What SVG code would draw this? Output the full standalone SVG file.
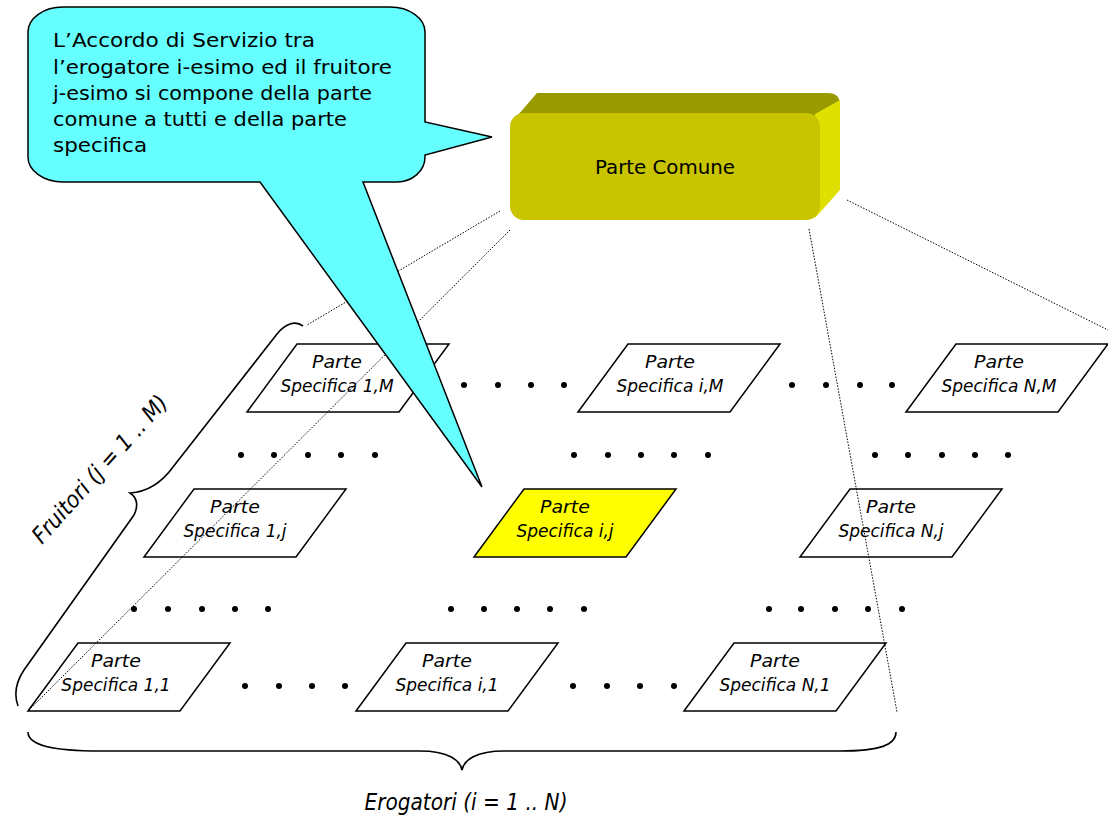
<svg xmlns="http://www.w3.org/2000/svg" width="1108" height="816" viewBox="0 0 1108 816">
<style>
.ps{fill:#ffffff;stroke:#000;stroke-width:1.5;stroke-linejoin:miter}
.ps.hl{fill:#ffff00}
.pt{font-family:"DejaVu Sans","Liberation Sans",sans-serif;font-style:italic;font-size:17px;fill:#000;text-anchor:middle}
.dot{fill:#000}
.brace{fill:none;stroke:#000;stroke-width:1.6}
.conn line{stroke:#000;stroke-width:1;stroke-dasharray:1.5 1.5;fill:none}
.ct{font-family:"DejaVu Sans","Liberation Sans",sans-serif;font-size:19px;fill:#000}
.lbl{font-family:"DejaVu Sans","Liberation Sans",sans-serif;font-style:italic;font-size:23px;fill:#000}
</style>
<defs>
<polygon id="para" points="0,68 50,0 202,0 152,68"/>
</defs>
<rect width="1108" height="816" fill="#ffffff"/>

<!-- Parte Specifica boxes -->
<g id="ps-1-M"><use href="#para" class="ps" x="247" y="344"/><text class="pt" x="337" y="368" textLength="50" lengthAdjust="spacingAndGlyphs">Parte</text><text class="pt" x="337" y="392">Specifica 1,M</text></g>
<g id="ps-i-M"><use href="#para" class="ps" x="578" y="344"/><text class="pt" x="670" y="368" textLength="50" lengthAdjust="spacingAndGlyphs">Parte</text><text class="pt" x="670" y="392">Specifica i,M</text></g>
<g id="ps-N-M"><use href="#para" class="ps" x="906" y="344"/><text class="pt" x="999" y="368" textLength="50" lengthAdjust="spacingAndGlyphs">Parte</text><text class="pt" x="999" y="392">Specifica N,M</text></g>
<g id="ps-1-j"><use href="#para" class="ps" x="144" y="489"/><text class="pt" x="235" y="513" textLength="50" lengthAdjust="spacingAndGlyphs">Parte</text><text class="pt" x="235" y="537">Specifica 1,j</text></g>
<g id="ps-i-j"><use href="#para" class="ps hl" x="474" y="489"/><text class="pt" x="565" y="513" textLength="50" lengthAdjust="spacingAndGlyphs">Parte</text><text class="pt" x="565" y="537">Specifica i,j</text></g>
<g id="ps-N-j"><use href="#para" class="ps" x="800" y="489"/><text class="pt" x="891" y="513" textLength="50" lengthAdjust="spacingAndGlyphs">Parte</text><text class="pt" x="891" y="537">Specifica N,j</text></g>
<g id="ps-1-1"><use href="#para" class="ps" x="28" y="643"/><text class="pt" x="116" y="667" textLength="50" lengthAdjust="spacingAndGlyphs">Parte</text><text class="pt" x="116" y="691">Specifica 1,1</text></g>
<g id="ps-i-1"><use href="#para" class="ps" x="356" y="643"/><text class="pt" x="447" y="667" textLength="50" lengthAdjust="spacingAndGlyphs">Parte</text><text class="pt" x="447" y="691">Specifica i,1</text></g>
<g id="ps-N-1"><use href="#para" class="ps" x="684" y="643"/><text class="pt" x="775" y="667" textLength="50" lengthAdjust="spacingAndGlyphs">Parte</text><text class="pt" x="775" y="691">Specifica N,1</text></g>

<!-- ellipsis dots -->
<g id="dots">
<circle class="dot" cx="464" cy="385" r="3"/><circle class="dot" cx="498" cy="385" r="3"/><circle class="dot" cx="531" cy="385" r="3"/><circle class="dot" cx="564" cy="385" r="3"/>
<circle class="dot" cx="792" cy="385" r="3"/><circle class="dot" cx="826" cy="385" r="3"/><circle class="dot" cx="860" cy="385" r="3"/><circle class="dot" cx="892" cy="385" r="3"/>
<circle class="dot" cx="241" cy="455" r="3"/><circle class="dot" cx="274" cy="455" r="3"/><circle class="dot" cx="308" cy="455" r="3"/><circle class="dot" cx="341" cy="455" r="3"/><circle class="dot" cx="375" cy="455" r="3"/>
<circle class="dot" cx="574" cy="455" r="3"/><circle class="dot" cx="608" cy="455" r="3"/><circle class="dot" cx="641" cy="455" r="3"/><circle class="dot" cx="674" cy="455" r="3"/><circle class="dot" cx="708" cy="455" r="3"/>
<circle class="dot" cx="875" cy="455" r="3"/><circle class="dot" cx="908" cy="455" r="3"/><circle class="dot" cx="942" cy="455" r="3"/><circle class="dot" cx="975" cy="455" r="3"/><circle class="dot" cx="1008" cy="455" r="3"/>
<circle class="dot" cx="134" cy="609" r="3"/><circle class="dot" cx="168" cy="609" r="3"/><circle class="dot" cx="202" cy="609" r="3"/><circle class="dot" cx="235" cy="609" r="3"/><circle class="dot" cx="268" cy="609" r="3"/>
<circle class="dot" cx="451" cy="609" r="3"/><circle class="dot" cx="484" cy="609" r="3"/><circle class="dot" cx="517" cy="609" r="3"/><circle class="dot" cx="550" cy="609" r="3"/><circle class="dot" cx="584" cy="609" r="3"/>
<circle class="dot" cx="769" cy="609" r="3"/><circle class="dot" cx="801" cy="609" r="3"/><circle class="dot" cx="835" cy="609" r="3"/><circle class="dot" cx="868" cy="609" r="3"/><circle class="dot" cx="902" cy="609" r="3"/>
<circle class="dot" cx="245" cy="686" r="3"/><circle class="dot" cx="279" cy="686" r="3"/><circle class="dot" cx="312" cy="686" r="3"/><circle class="dot" cx="345" cy="686" r="3"/>
<circle class="dot" cx="573" cy="686" r="3"/><circle class="dot" cx="607" cy="686" r="3"/><circle class="dot" cx="640" cy="686" r="3"/><circle class="dot" cx="674" cy="686" r="3"/>
</g>

<!-- braces and labels -->
<g id="fruitori">
<path class="brace" d="M303,326 C295,320 285,324 277,334 L173,467 C160,485 145,492 130,493 C138,498 138,507 134,515 L24,670 C16,682 14,695 18,706"/>
<text class="lbl" x="42" y="545" transform="rotate(-48 42 545)" textLength="190" lengthAdjust="spacingAndGlyphs">Fruitori (j = 1 .. M)</text>
</g>
<g id="erogatori">
<path class="brace" d="M28,732 C28,746 55,751 100,751 L420,751 C448,751 460,760 462,770 C464,760 476,751 504,751 L840,751 C880,751 896,745 896,732"/>
<text class="lbl" x="466" y="810" text-anchor="middle" textLength="203" lengthAdjust="spacingAndGlyphs">Erogatori (i = 1 .. N)</text>
</g>

<!-- connectors -->
<g id="connectors" class="conn">
<line x1="500" y1="211" x2="307" y2="325"/>
<line x1="510" y1="230" x2="28" y2="711"/>
<line x1="809" y1="229" x2="897" y2="712"/>
<line x1="847" y1="200" x2="1108" y2="330"/>
</g>

<!-- Parte Comune 3D box -->
<g id="parte-comune">
<path d="M512,122 L537,93 L828,93 Q840,93 840,105 L822,124 Z" fill="#999900"/>
<path d="M815,114 L840,100 L840,190 L815,218 Z" fill="#e0e000"/>
<rect x="510" y="113" width="310" height="107" rx="14" ry="14" fill="#c8c400"/>
<text x="665" y="174" text-anchor="middle" font-family="DejaVu Sans, Liberation Sans, sans-serif" font-size="20" textLength="140" lengthAdjust="spacingAndGlyphs" fill="#000">Parte Comune</text>
</g>

<!-- callout -->
<g id="callout">
<path d="M63,7 L390,7 A35,25 0 0 1 425,32 L425,122 L492,137 L425,155 L425,157 A28,25 0 0 1 397,182 L363,182 L482,487 L260,182 L63,182 A35,25 0 0 1 28,157 L28,32 A35,25 0 0 1 63,7 Z" fill="#66ffff" stroke="#000" stroke-width="1.5" stroke-linejoin="miter"/>
<text class="ct" x="53" y="47" textLength="262" lengthAdjust="spacingAndGlyphs">L’Accordo di Servizio tra</text>
<text class="ct" x="53" y="73.5" textLength="339" lengthAdjust="spacingAndGlyphs">l’erogatore i-esimo ed il fruitore</text>
<text class="ct" x="53" y="100" textLength="319" lengthAdjust="spacingAndGlyphs">j-esimo si compone della parte</text>
<text class="ct" x="53" y="126" textLength="294" lengthAdjust="spacingAndGlyphs">comune a tutti e della parte</text>
<text class="ct" x="53" y="152" textLength="94" lengthAdjust="spacingAndGlyphs">specifica</text>
</g>
</svg>
